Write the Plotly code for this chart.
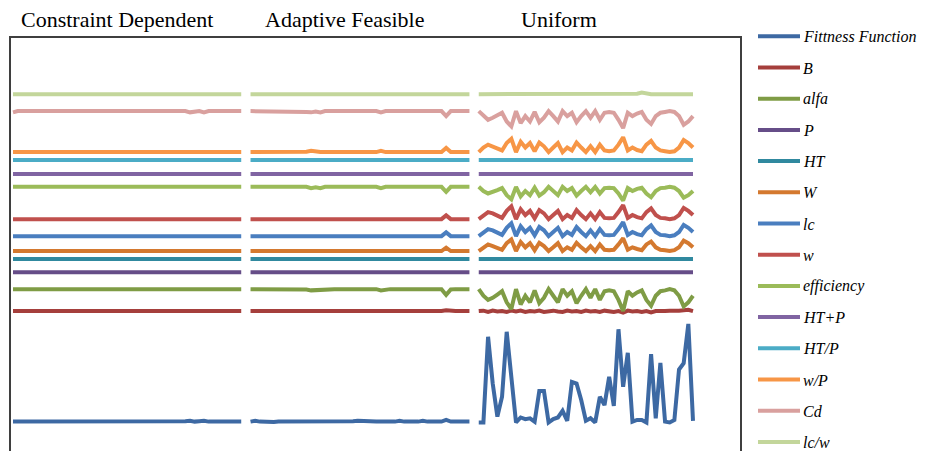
import plotly.graph_objects as go

# Series shown, in legend order
series_names = ["Fittness Function", "B", "alfa", "P", "HT", "W", "lc", "w",
                "efficiency", "HT+P", "HT/P", "w/P", "Cd", "lc/w"]
series_colors = ["#3D69A3", "#A53F3C", "#7F9C45", "#664D88", "#30899F", "#D4792F",
                 "#4A7EBF", "#C0504D", "#9BBB59", "#8064A2", "#4BACC6", "#F79646",
                 "#D9A09E", "#C3D69B"]
panel_titles = ["Constraint Dependent", "Adaptive Feasible", "Uniform"]

# Generation index for each mutation scheme
gen_cd = list(range(1, 51))
gen_af = list(range(1, 49))
gen_un = list(range(1, 48))

# ---------------- Constraint Dependent (normalised, stacked levels) ----------------
fit_cd = [7.1, 7.1, 7.0, 7.1, 7.1, 7.1, 7.1, 7.0, 7.1, 7.1,
          7.1, 7.1, 7.1, 7.1, 7.0, 7.1, 7.1, 7.1, 7.1, 7.1,
          7.1, 7.1, 7.1, 7.0, 7.1, 7.1, 7.1, 7.1, 7.1, 7.1,
          7.1, 7.1, 7.1, 7.1, 7.1, 7.2, 7.1, 7.2, 7.3, 7.1,
          7.2, 7.3, 7.1, 7.1, 7.2, 7.1, 7.1, 7.1, 7.1, 7.1]
b_cd = [33.8, 33.8, 33.8, 33.7, 33.8, 33.8, 33.8, 33.8, 33.8, 33.8,
        33.8, 33.8, 33.8, 33.8, 33.8, 33.8, 33.8, 33.7, 33.8, 33.8,
        33.8, 33.8, 33.8, 33.8, 33.8, 33.8, 33.8, 33.8, 33.8, 33.8,
        33.8, 33.8, 33.8, 33.8, 33.8, 33.8, 33.7, 33.8, 33.8, 33.9,
        33.8, 33.7, 33.8, 33.8, 33.8, 33.8, 33.8, 33.8, 33.8, 33.8]
alfa_cd = [39.1, 39.1, 39.1, 39.1, 39.1, 39.1, 39.1, 39.1, 39.1, 39.1,
           39.1, 39.1, 39.1, 39.1, 39.1, 39.1, 39.1, 39.1, 39.1, 39.1,
           39.1, 39.1, 39.1, 39.1, 39.1, 39.1, 39.1, 39.1, 39.1, 39.1,
           39.1, 39.1, 39.1, 39.1, 39.1, 39.1, 39.0, 39.1, 38.9, 39.1,
           39.0, 38.9, 39.1, 39.1, 39.1, 39.1, 39.1, 39.1, 39.1, 39.1]
p_cd = [43.2, 43.2, 43.2, 43.2, 43.2, 43.2, 43.2, 43.2, 43.2, 43.2,
        43.2, 43.2, 43.2, 43.2, 43.2, 43.2, 43.2, 43.2, 43.2, 43.2,
        43.2, 43.2, 43.2, 43.2, 43.2, 43.2, 43.2, 43.2, 43.2, 43.2,
        43.2, 43.2, 43.2, 43.2, 43.2, 43.2, 43.2, 43.2, 43.2, 43.2,
        43.2, 43.2, 43.2, 43.2, 43.2, 43.2, 43.2, 43.2, 43.2, 43.2]
ht_cd = [46.4, 46.4, 46.4, 46.4, 46.4, 46.4, 46.4, 46.4, 46.4, 46.4,
         46.4, 46.4, 46.4, 46.4, 46.4, 46.4, 46.4, 46.4, 46.4, 46.4,
         46.4, 46.4, 46.4, 46.4, 46.4, 46.4, 46.4, 46.4, 46.4, 46.4,
         46.4, 46.4, 46.4, 46.4, 46.4, 46.4, 46.4, 46.4, 46.4, 46.4,
         46.4, 46.4, 46.4, 46.4, 46.4, 46.4, 46.4, 46.4, 46.4, 46.4]
wcap_cd = [48.3, 48.3, 48.3, 48.3, 48.3, 48.3, 48.3, 48.3, 48.3, 48.3,
           48.3, 48.3, 48.3, 48.3, 48.3, 48.3, 48.3, 48.3, 48.3, 48.3,
           48.3, 48.3, 48.3, 48.3, 48.3, 48.3, 48.3, 48.3, 48.3, 48.3,
           48.3, 48.3, 48.3, 48.3, 48.3, 48.3, 48.3, 48.3, 48.4, 48.3,
           48.3, 48.5, 48.3, 48.3, 48.3, 48.3, 48.3, 48.3, 48.3, 48.3]
lc_cd = [51.9, 51.9, 51.9, 51.9, 51.9, 51.9, 51.9, 51.9, 51.9, 51.9,
         51.9, 51.9, 51.9, 51.9, 51.9, 51.9, 51.9, 51.9, 51.9, 51.9,
         51.9, 51.9, 51.9, 51.9, 51.9, 51.9, 51.9, 51.9, 51.9, 51.9,
         51.9, 51.9, 51.9, 51.9, 51.9, 51.9, 51.9, 51.9, 52.0, 51.9,
         51.9, 52.1, 51.9, 51.9, 51.9, 51.9, 51.9, 51.9, 51.9, 51.9]
w_cd = [56.0, 56.0, 56.0, 56.0, 56.0, 56.0, 56.0, 56.0, 56.0, 56.0,
        56.0, 56.0, 56.0, 56.0, 56.0, 56.0, 56.0, 56.0, 56.0, 56.0,
        56.0, 56.0, 56.0, 56.0, 56.0, 56.0, 56.0, 56.0, 56.0, 56.0,
        56.0, 56.0, 56.0, 56.0, 56.0, 56.0, 56.0, 56.0, 56.1, 56.0,
        56.0, 56.2, 56.0, 56.0, 56.0, 56.0, 56.0, 56.0, 56.0, 56.0]
eff_cd = [63.8, 63.8, 63.8, 63.8, 63.8, 63.8, 63.8, 63.8, 63.8, 63.8,
          63.8, 63.8, 63.8, 63.8, 63.8, 63.8, 63.8, 63.8, 63.8, 63.8,
          63.8, 63.8, 63.8, 63.8, 63.8, 63.8, 63.8, 63.8, 63.8, 63.8,
          63.8, 63.8, 63.8, 63.8, 63.8, 63.8, 63.7, 63.8, 63.6, 63.8,
          63.8, 63.6, 63.8, 63.8, 63.8, 63.8, 63.8, 63.8, 63.8, 63.8]
htp_sum_cd = [66.9, 66.9, 66.9, 66.9, 66.9, 66.9, 66.9, 66.9, 66.9, 66.9,
              66.9, 66.9, 66.9, 66.9, 66.9, 66.9, 66.9, 66.9, 66.9, 66.9,
              66.9, 66.9, 66.9, 66.9, 66.9, 66.9, 66.9, 66.9, 66.9, 66.9,
              66.9, 66.9, 66.9, 66.9, 66.9, 66.9, 66.9, 66.9, 66.9, 66.9,
              66.9, 66.9, 66.9, 66.9, 66.9, 66.9, 66.9, 66.9, 66.9, 66.9]
htp_ratio_cd = [70.3, 70.3, 70.3, 70.3, 70.3, 70.3, 70.3, 70.3, 70.3, 70.3,
                70.3, 70.3, 70.3, 70.3, 70.3, 70.3, 70.3, 70.3, 70.3, 70.3,
                70.3, 70.3, 70.3, 70.3, 70.3, 70.3, 70.3, 70.3, 70.3, 70.3,
                70.3, 70.3, 70.3, 70.3, 70.3, 70.3, 70.3, 70.3, 70.3, 70.3,
                70.3, 70.3, 70.3, 70.3, 70.3, 70.3, 70.3, 70.3, 70.3, 70.3]
wp_cd = [72.2, 72.2, 72.2, 72.2, 72.2, 72.2, 72.2, 72.2, 72.2, 72.2,
         72.2, 72.2, 72.2, 72.2, 72.2, 72.2, 72.2, 72.2, 72.2, 72.2,
         72.2, 72.2, 72.2, 72.2, 72.2, 72.2, 72.2, 72.2, 72.2, 72.2,
         72.2, 72.2, 72.2, 72.2, 72.2, 72.3, 72.2, 72.4, 72.3, 72.2,
         72.2, 72.4, 72.2, 72.2, 72.2, 72.2, 72.2, 72.2, 72.2, 72.2]
cdrag_cd = [81.8, 82.1, 82.1, 82.1, 82.1, 82.1, 82.1, 82.1, 82.1, 82.1,
            82.1, 82.1, 82.1, 82.1, 82.1, 82.1, 82.1, 82.1, 82.1, 82.1,
            82.1, 82.1, 82.1, 82.1, 82.1, 82.1, 82.1, 82.1, 82.1, 82.1,
            82.1, 82.1, 82.1, 82.1, 82.1, 82.1, 82.0, 82.1, 81.8, 82.0,
            82.1, 81.8, 82.1, 82.1, 82.1, 82.1, 82.1, 82.1, 82.1, 82.1]
lcw_cd = [86.2, 86.2, 86.2, 86.2, 86.2, 86.2, 86.2, 86.2, 86.2, 86.2,
          86.2, 86.2, 86.2, 86.2, 86.2, 86.2, 86.2, 86.2, 86.2, 86.2,
          86.2, 86.2, 86.2, 86.2, 86.2, 86.2, 86.2, 86.2, 86.2, 86.2,
          86.2, 86.2, 86.2, 86.2, 86.2, 86.2, 86.2, 86.2, 86.2, 86.2,
          86.2, 86.2, 86.2, 86.2, 86.2, 86.2, 86.2, 86.2, 86.2, 86.2]

# ---------------- Adaptive Feasible ----------------
fit_af = [7.1, 7.3, 7.1, 7.0, 7.1, 7.0, 7.1, 7.1, 7.0, 7.1,
          7.1, 7.1, 7.1, 7.0, 7.1, 7.1, 7.1, 7.0, 7.1, 7.1,
          7.1, 7.1, 7.2, 7.3, 7.2, 7.1, 7.0, 7.1, 7.1, 7.2,
          7.1, 7.1, 7.3, 7.1, 7.0, 7.1, 7.1, 7.3, 7.1, 7.0,
          7.1, 7.1, 7.5, 7.1, 7.0, 7.1, 7.1, 7.1]
b_af = [33.8, 33.8, 33.8, 33.8, 33.8, 33.8, 33.8, 33.8, 33.8, 33.8,
        33.8, 33.8, 33.8, 33.8, 33.8, 33.8, 33.8, 33.8, 33.8, 33.8,
        33.8, 33.8, 33.8, 33.8, 33.8, 33.8, 33.8, 33.8, 33.8, 33.8,
        33.8, 33.6, 33.6, 33.8, 33.8, 33.8, 33.8, 33.8, 33.8, 33.8,
        33.8, 33.8, 34.0, 33.8, 33.8, 33.8, 33.8, 33.8]
alfa_af = [39.1, 39.1, 39.1, 39.1, 39.1, 39.1, 39.1, 39.1, 39.1, 39.1,
           39.1, 39.1, 39.0, 38.8, 38.9, 38.8, 39.0, 39.1, 39.1, 39.1,
           39.1, 39.1, 39.1, 39.1, 39.1, 39.1, 39.1, 39.1, 38.8, 39.0,
           39.1, 39.1, 39.1, 39.1, 39.1, 39.1, 39.1, 39.1, 39.1, 39.1,
           39.1, 39.1, 37.7, 39.0, 39.1, 39.1, 39.1, 39.1]
p_af = [43.2, 43.2, 43.2, 43.2, 43.2, 43.2, 43.2, 43.2, 43.2, 43.2,
        43.2, 43.2, 43.2, 43.2, 43.2, 43.2, 43.2, 43.2, 43.2, 43.2,
        43.2, 43.2, 43.2, 43.2, 43.2, 43.2, 43.2, 43.2, 43.2, 43.2,
        43.2, 43.2, 43.2, 43.2, 43.2, 43.2, 43.2, 43.2, 43.2, 43.2,
        43.2, 43.2, 43.2, 43.2, 43.2, 43.2, 43.2, 43.2]
ht_af = [46.4, 46.4, 46.4, 46.4, 46.4, 46.4, 46.4, 46.4, 46.4, 46.4,
         46.4, 46.4, 46.4, 46.4, 46.4, 46.4, 46.4, 46.4, 46.4, 46.4,
         46.4, 46.4, 46.4, 46.4, 46.4, 46.4, 46.4, 46.4, 46.4, 46.4,
         46.4, 46.4, 46.4, 46.4, 46.4, 46.4, 46.4, 46.4, 46.4, 46.4,
         46.4, 46.4, 46.4, 46.4, 46.4, 46.4, 46.4, 46.4]
wcap_af = [48.3, 48.3, 48.3, 48.3, 48.3, 48.3, 48.3, 48.3, 48.3, 48.3,
           48.3, 48.3, 48.3, 48.5, 48.3, 48.3, 48.3, 48.3, 48.3, 48.3,
           48.3, 48.3, 48.3, 48.3, 48.3, 48.3, 48.3, 48.3, 48.5, 48.3,
           48.3, 48.3, 48.3, 48.3, 48.3, 48.3, 48.3, 48.3, 48.3, 48.3,
           48.3, 48.3, 49.1, 48.3, 48.3, 48.3, 48.3, 48.3]
lc_af = [51.9, 51.9, 51.9, 51.9, 51.9, 51.9, 51.9, 51.9, 51.9, 51.9,
         51.9, 51.9, 51.9, 52.1, 51.9, 51.9, 51.9, 51.9, 51.9, 51.9,
         51.9, 51.9, 51.9, 51.9, 51.9, 51.9, 51.9, 51.9, 52.1, 51.9,
         51.9, 51.9, 51.9, 51.9, 51.9, 51.9, 51.9, 51.9, 51.9, 51.9,
         51.9, 51.9, 52.8, 51.9, 51.9, 51.9, 51.9, 51.9]
w_af = [56.0, 56.0, 56.0, 56.0, 56.0, 56.0, 56.0, 56.0, 56.0, 56.0,
        56.0, 56.0, 56.0, 56.2, 56.0, 56.0, 56.0, 56.0, 56.0, 56.0,
        56.0, 56.0, 56.0, 56.0, 56.0, 56.0, 56.0, 56.0, 56.2, 56.0,
        56.0, 56.0, 56.0, 56.0, 56.0, 56.0, 56.0, 56.0, 56.0, 56.0,
        56.0, 56.0, 56.9, 56.0, 56.0, 56.0, 56.0, 56.0]
eff_af = [63.8, 63.8, 63.8, 63.8, 63.8, 63.8, 63.8, 63.8, 63.8, 63.8,
          63.8, 63.8, 63.8, 63.5, 63.7, 63.5, 63.8, 63.8, 63.8, 63.8,
          63.8, 63.8, 63.8, 63.8, 63.8, 63.8, 63.8, 63.8, 63.5, 63.8,
          63.8, 63.8, 63.8, 63.8, 63.8, 63.8, 63.8, 63.8, 63.8, 63.8,
          63.8, 63.8, 62.6, 63.8, 63.8, 63.8, 63.8, 63.8]
htp_sum_af = [66.9, 66.9, 66.9, 66.9, 66.9, 66.9, 66.9, 66.9, 66.9, 66.9,
              66.9, 66.9, 66.9, 66.9, 66.9, 66.9, 66.9, 66.9, 66.9, 66.9,
              66.9, 66.9, 66.9, 66.9, 66.9, 66.9, 66.9, 66.9, 66.9, 66.9,
              66.9, 66.9, 66.9, 66.9, 66.9, 66.9, 66.9, 66.9, 66.9, 66.9,
              66.9, 66.9, 66.9, 66.9, 66.9, 66.9, 66.9, 66.9]
htp_ratio_af = [70.3, 70.3, 70.3, 70.3, 70.3, 70.3, 70.3, 70.3, 70.3, 70.3,
                70.3, 70.3, 70.3, 70.3, 70.3, 70.3, 70.3, 70.3, 70.3, 70.3,
                70.3, 70.3, 70.3, 70.3, 70.3, 70.3, 70.3, 70.3, 70.3, 70.3,
                70.3, 70.3, 70.3, 70.3, 70.3, 70.3, 70.3, 70.3, 70.3, 70.3,
                70.3, 70.3, 70.3, 70.3, 70.3, 70.3, 70.3, 70.3]
wp_af = [72.2, 72.2, 72.2, 72.2, 72.2, 72.2, 72.2, 72.2, 72.2, 72.2,
         72.2, 72.2, 72.3, 72.5, 72.3, 72.2, 72.2, 72.2, 72.2, 72.2,
         72.2, 72.2, 72.2, 72.2, 72.2, 72.2, 72.2, 72.2, 72.5, 72.2,
         72.2, 72.2, 72.2, 72.2, 72.2, 72.2, 72.2, 72.2, 72.2, 72.2,
         72.2, 72.2, 73.2, 72.2, 72.2, 72.2, 72.2, 72.2]
cdrag_af = [82.1, 82.1, 82.1, 82.1, 82.1, 82.1, 82.1, 82.1, 82.1, 82.1,
            82.1, 82.1, 81.9, 81.8, 82.0, 81.8, 82.1, 82.1, 82.1, 82.1,
            82.1, 82.1, 82.1, 82.1, 82.1, 82.1, 82.1, 82.1, 81.8, 82.1,
            82.1, 82.1, 82.1, 82.1, 82.1, 82.1, 82.1, 82.1, 82.1, 82.1,
            82.1, 82.1, 80.9, 82.1, 82.1, 82.1, 82.1, 82.1]
lcw_af = [86.2, 86.2, 86.2, 86.2, 86.2, 86.2, 86.2, 86.2, 86.2, 86.2,
          86.2, 86.2, 86.2, 86.2, 86.2, 86.2, 86.2, 86.2, 86.2, 86.2,
          86.2, 86.2, 86.2, 86.2, 86.2, 86.2, 86.2, 86.2, 86.2, 86.2,
          86.2, 86.2, 86.2, 86.2, 86.2, 86.2, 86.2, 86.2, 86.2, 86.2,
          86.2, 86.2, 86.2, 86.2, 86.2, 86.2, 86.2, 86.2]

# ---------------- Uniform ----------------
fit_un = [6.9, 6.9, 27.6, 16.3, 8.3, 13.1, 28.8, 17.9, 6.9, 8.1,
          7.7, 7.9, 7.1, 14.5, 14.5, 6.9, 7.7, 8.1, 9.7, 7.3,
          16.7, 16.3, 12.3, 7.3, 7.9, 6.9, 13.1, 11.1, 17.9, 10.9,
          29.4, 15.5, 23.7, 7.1, 7.5, 7.5, 6.9, 23.4, 7.9, 21.3,
          7.1, 6.9, 7.5, 19.7, 21.2, 30.7, 7.3]
b_un = [33.8, 33.9, 33.6, 33.9, 33.7, 33.8, 33.6, 33.9, 33.7, 33.9,
        33.6, 33.8, 33.7, 33.9, 33.6, 33.8, 33.9, 33.7, 33.6, 33.9,
        33.7, 33.8, 33.6, 33.9, 33.7, 33.8, 33.6, 33.9, 33.7, 33.6,
        33.8, 33.4, 33.9, 33.7, 33.8, 33.6, 33.8, 33.5, 33.8, 33.7,
        33.8, 33.9, 33.8, 33.9, 34.0, 34.1, 33.8]
alfa_un = [39.1, 37.5, 36.5, 37.0, 37.8, 38.6, 35.9, 34.3, 39.1, 35.4,
           37.5, 35.9, 38.8, 35.7, 37.0, 39.1, 37.5, 35.9, 39.1, 37.5,
           38.6, 35.7, 37.5, 39.1, 37.0, 39.1, 36.5, 38.6, 38.8, 38.6,
           36.5, 33.8, 38.6, 37.5, 38.3, 38.8, 36.5, 35.1, 37.5, 38.6,
           38.8, 39.1, 38.8, 37.5, 34.9, 35.9, 37.5]
p_un = [43.2, 43.2, 43.2, 43.2, 43.2, 43.2, 43.2, 43.2, 43.2, 43.2,
        43.2, 43.2, 43.2, 43.2, 43.2, 43.2, 43.2, 43.2, 43.2, 43.2,
        43.2, 43.2, 43.2, 43.2, 43.2, 43.2, 43.2, 43.2, 43.2, 43.2,
        43.2, 43.2, 43.2, 43.2, 43.2, 43.2, 43.2, 43.2, 43.2, 43.2,
        43.2, 43.2, 43.2, 43.2, 43.2, 43.2, 43.2]
ht_un = [46.4, 46.4, 46.4, 46.4, 46.4, 46.4, 46.4, 46.4, 46.4, 46.4,
         46.4, 46.4, 46.4, 46.4, 46.4, 46.4, 46.4, 46.4, 46.4, 46.4,
         46.4, 46.4, 46.4, 46.4, 46.4, 46.4, 46.4, 46.4, 46.4, 46.4,
         46.4, 46.4, 46.4, 46.4, 46.4, 46.4, 46.4, 46.4, 46.4, 46.4,
         46.4, 46.4, 46.4, 46.4, 46.4, 46.4, 46.4]
wcap_un = [48.3, 49.2, 49.9, 49.5, 49.1, 48.6, 50.2, 51.1, 48.3, 50.5,
           49.2, 50.2, 48.5, 50.3, 49.5, 48.3, 49.2, 50.2, 48.3, 49.2,
           48.6, 50.3, 49.2, 48.3, 49.5, 48.3, 49.9, 48.6, 48.5, 48.6,
           49.9, 51.4, 48.6, 49.2, 48.8, 48.5, 49.9, 50.6, 49.2, 48.6,
           48.5, 48.3, 48.5, 49.2, 50.8, 50.2, 49.2]
lc_un = [51.9, 52.9, 53.6, 53.3, 52.8, 52.2, 53.9, 55.0, 51.9, 54.3,
         52.9, 53.9, 52.1, 54.1, 53.3, 51.9, 52.9, 53.9, 51.9, 52.9,
         52.2, 54.1, 52.9, 51.9, 53.3, 51.9, 53.6, 52.2, 52.1, 52.2,
         53.6, 55.3, 52.2, 52.9, 52.4, 52.1, 53.6, 54.5, 52.9, 52.2,
         52.1, 51.9, 52.1, 52.9, 54.6, 53.9, 52.9]
w_un = [56.0, 57.0, 57.7, 57.4, 56.9, 56.3, 58.0, 59.1, 56.0, 58.4,
        57.0, 58.0, 56.2, 58.2, 57.4, 56.0, 57.0, 58.0, 56.0, 57.0,
        56.3, 58.2, 57.0, 56.0, 57.4, 56.0, 57.7, 56.3, 56.2, 56.3,
        57.7, 59.4, 56.3, 57.0, 56.5, 56.2, 57.7, 58.6, 57.0, 56.3,
        56.2, 56.0, 56.2, 57.0, 58.7, 58.0, 57.0]
eff_un = [63.8, 62.8, 62.2, 62.5, 63.0, 63.5, 61.8, 60.8, 63.8, 61.5,
          62.8, 61.8, 63.6, 61.7, 62.5, 63.8, 62.8, 61.8, 63.8, 62.8,
          63.5, 61.7, 62.8, 63.8, 62.5, 63.8, 62.2, 63.5, 63.6, 63.5,
          62.2, 60.5, 63.5, 62.8, 63.3, 63.6, 62.2, 61.3, 62.8, 63.5,
          63.6, 63.8, 63.6, 62.8, 61.2, 61.8, 62.8]
htp_sum_un = [66.9, 66.9, 66.9, 66.9, 66.9, 66.9, 66.9, 66.9, 66.9, 66.9,
              66.9, 66.9, 66.9, 66.9, 66.9, 66.9, 66.9, 66.9, 66.9, 66.9,
              66.9, 66.9, 66.9, 66.9, 66.9, 66.9, 66.9, 66.9, 66.9, 66.9,
              66.9, 66.9, 66.9, 66.9, 66.9, 66.9, 66.9, 66.9, 66.9, 66.9,
              66.9, 66.9, 66.9, 66.9, 66.9, 66.9, 66.9]
htp_ratio_un = [70.3, 70.3, 70.3, 70.3, 70.3, 70.3, 70.3, 70.3, 70.3, 70.3,
                70.3, 70.3, 70.3, 70.3, 70.3, 70.3, 70.3, 70.3, 70.3, 70.3,
                70.3, 70.3, 70.3, 70.3, 70.3, 70.3, 70.3, 70.3, 70.3, 70.3,
                70.3, 70.3, 70.3, 70.3, 70.3, 70.3, 70.3, 70.3, 70.3, 70.3,
                70.3, 70.3, 70.3, 70.3, 70.3, 70.3, 70.3]
wp_un = [72.2, 73.3, 74.0, 73.6, 73.1, 72.6, 74.4, 75.4, 72.2, 74.7,
         73.3, 74.4, 72.4, 74.5, 73.6, 72.2, 73.3, 74.4, 72.2, 73.3,
         72.6, 74.5, 73.3, 72.2, 73.6, 72.2, 74.0, 72.6, 72.4, 72.6,
         74.0, 75.8, 72.6, 73.3, 72.7, 72.4, 74.0, 74.9, 73.3, 72.6,
         72.4, 72.2, 72.4, 73.3, 75.1, 74.4, 73.3]
cdrag_un = [82.1, 80.9, 80.0, 80.5, 81.1, 81.7, 79.6, 78.4, 82.1, 79.2,
            80.9, 79.6, 81.9, 79.4, 80.5, 82.1, 80.9, 79.6, 82.1, 80.9,
            81.7, 79.4, 80.9, 82.1, 80.5, 82.1, 80.0, 81.7, 81.9, 81.7,
            80.0, 78.0, 81.7, 80.9, 81.5, 81.9, 80.0, 79.0, 80.9, 81.7,
            81.9, 82.1, 81.9, 80.9, 78.8, 79.6, 80.9]
lcw_un = [86.2, 86.2, 86.2, 86.2, 86.2, 86.2, 86.2, 86.2, 86.2, 86.2,
          86.2, 86.2, 86.2, 86.2, 86.2, 86.2, 86.2, 86.2, 86.2, 86.2,
          86.2, 86.2, 86.2, 86.2, 86.2, 86.2, 86.2, 86.2, 86.2, 86.2,
          86.2, 86.2, 86.2, 86.2, 86.3, 86.6, 86.3, 86.2, 86.2, 86.2,
          86.2, 86.2, 86.2, 86.2, 86.2, 86.2, 86.2]

cd_rows = [fit_cd, b_cd, alfa_cd, p_cd, ht_cd, wcap_cd, lc_cd, w_cd, eff_cd,
           htp_sum_cd, htp_ratio_cd, wp_cd, cdrag_cd, lcw_cd]
af_rows = [fit_af, b_af, alfa_af, p_af, ht_af, wcap_af, lc_af, w_af, eff_af,
           htp_sum_af, htp_ratio_af, wp_af, cdrag_af, lcw_af]
un_rows = [fit_un, b_un, alfa_un, p_un, ht_un, wcap_un, lc_un, w_un, eff_un,
           htp_sum_un, htp_ratio_un, wp_un, cdrag_un, lcw_un]

# The three schemes share one category axis, separated by a short gap
PANEL_START = [-1, 50, 99]
x_cd = [PANEL_START[0] + g for g in gen_cd]
x_af = [PANEL_START[1] + g for g in gen_af]
x_un = [PANEL_START[2] + g for g in gen_un]

fig = go.Figure()
for name, color, ycd, yaf, yun in zip(series_names, series_colors, cd_rows, af_rows, un_rows):
    fig.add_trace(go.Scatter(
        x=x_cd + [None] + x_af + [None] + x_un,
        y=ycd + [None] + yaf + [None] + yun,
        mode="lines", name=name, connectgaps=False, showlegend=False,
        line=dict(color=color, width=4, shape="linear"),
        hoverinfo="skip",
    ))

PLOT_L, PLOT_R, PLOT_T, H, W = 10, 741, 37, 451, 929
plot_w = PLOT_R - PLOT_L
plot_h = H - PLOT_T

def px_x(px):
    return (px - PLOT_L) / plot_w

def px_y(py):
    return (H - py) / plot_h

shapes = [dict(type="path", xref="paper", yref="paper",
               path="M 0,0 L 0,1 L 1,1 L 1,0",
               line=dict(color="#3F3F3F", width=2))]
annotations = []

# Panel headings
for title, cx in zip(panel_titles, [117, 344, 559]):
    annotations.append(dict(
        text=title, xref="paper", yref="paper", x=px_x(cx), y=px_y(19),
        xanchor="center", yanchor="middle", showarrow=False,
        font=dict(family="Liberation Serif", size=22, color="#000000")))

# Legend on the right
for k, (name, color) in enumerate(zip(series_names, series_colors)):
    ly = 36.3 + 31.2 * k
    shapes.append(dict(type="line", xref="paper", yref="paper",
                       x0=px_x(758), x1=px_x(800), y0=px_y(ly), y1=px_y(ly),
                       line=dict(color=color, width=4)))
    annotations.append(dict(
        text=name, xref="paper", yref="paper", x=px_x(801), y=px_y(ly + 0.5),
        xanchor="left", yanchor="middle", showarrow=False,
        font=dict(family="Liberation Serif", size=16, color="#000000", style="italic")))

x_lo = -3 / 4.6575
fig.update_layout(
    width=W, height=H,
    margin=dict(l=PLOT_L, r=W - PLOT_R, t=PLOT_T, b=0, pad=0),
    paper_bgcolor="white", plot_bgcolor="white",
    xaxis=dict(range=[x_lo, x_lo + plot_w / 4.6575], visible=False, fixedrange=True),
    yaxis=dict(range=[0, 100], visible=False, fixedrange=True),
    shapes=shapes, annotations=annotations,
    showlegend=False,
)

fig.write_html("out.html", config={"displayModeBar": False})
